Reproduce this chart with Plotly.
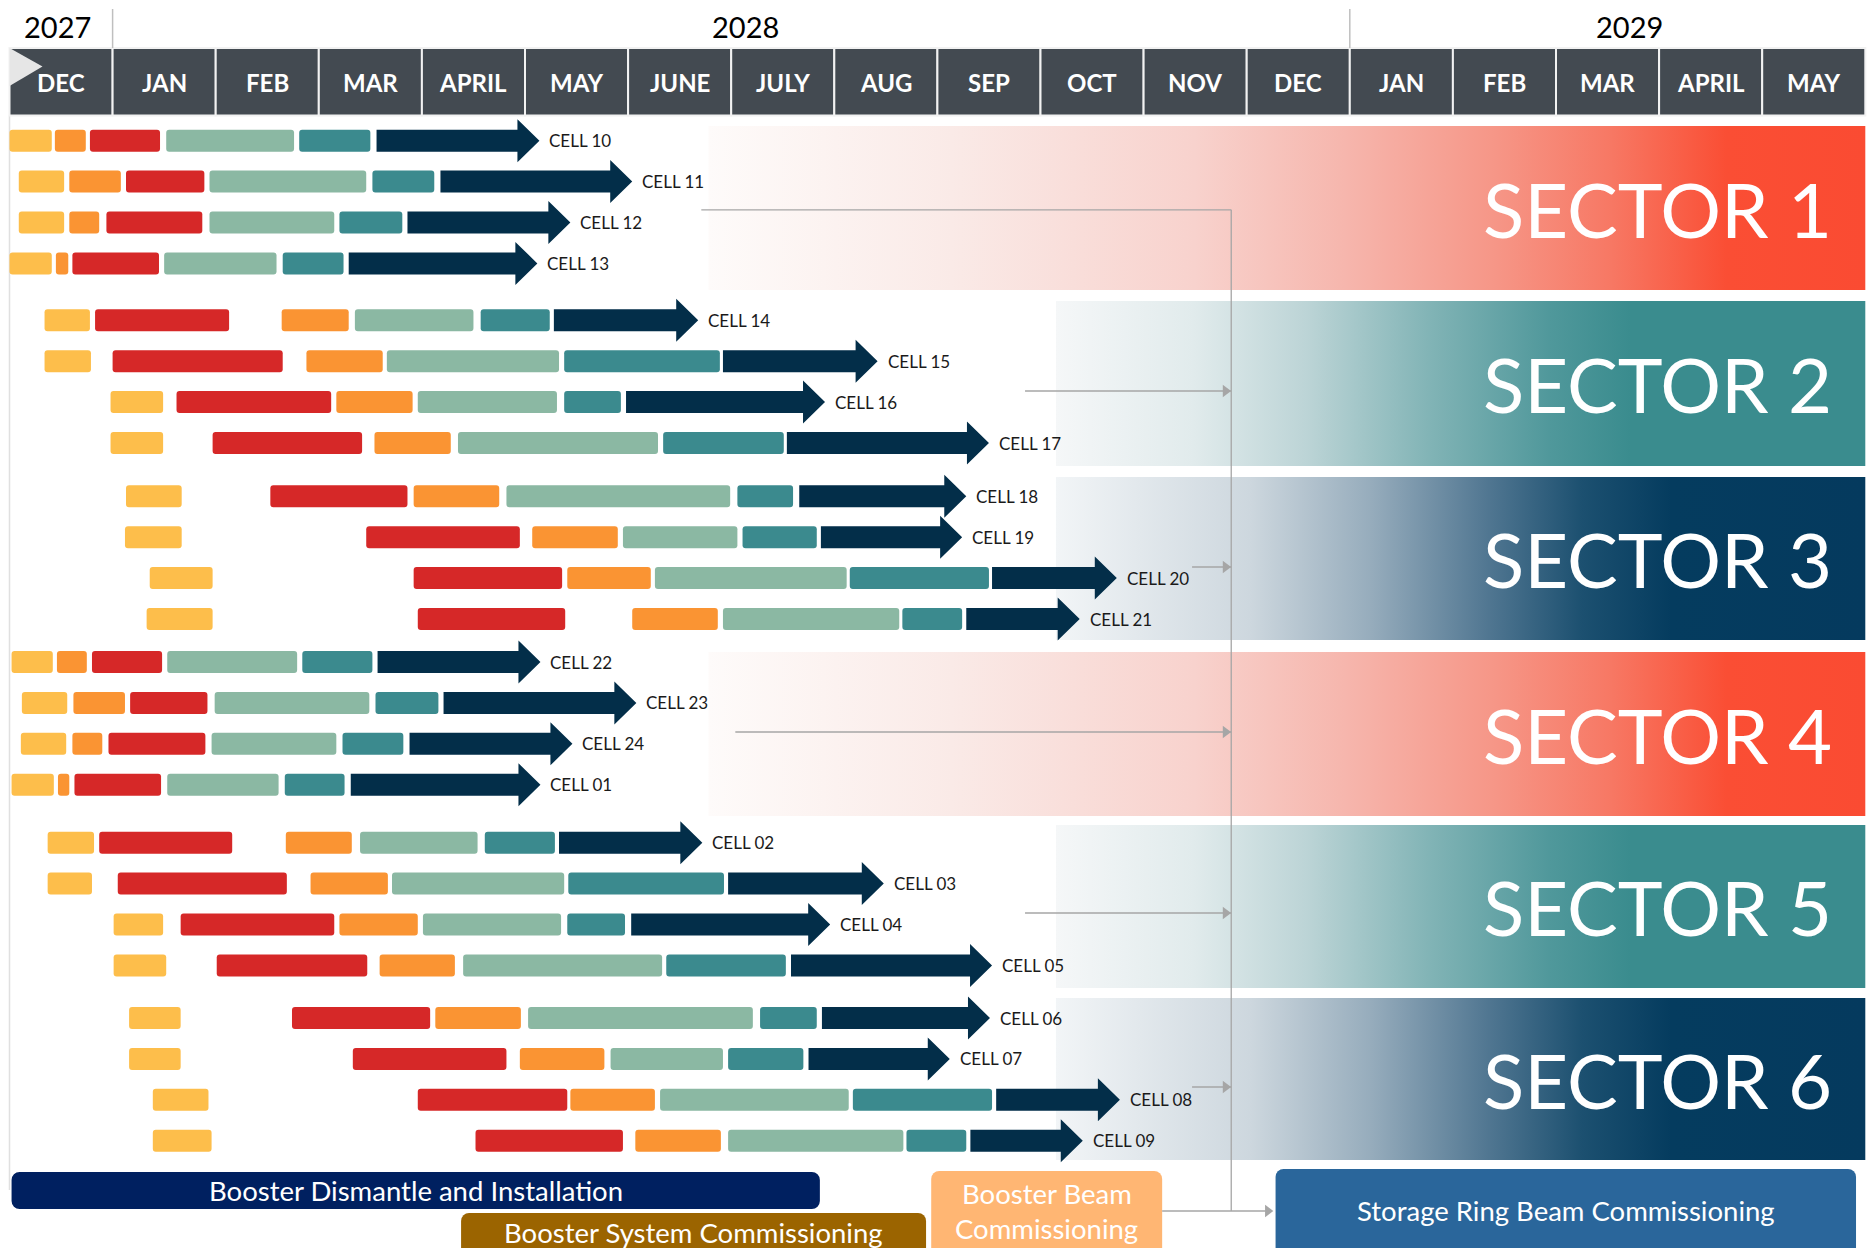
import plotly.graph_objects as go

# ---------------- data ----------------
months = ["DEC", "JAN", "FEB", "MAR", "APRIL", "MAY", "JUNE", "JULY", "AUG", "SEP",
          "OCT", "NOV", "DEC", "JAN", "FEB", "MAR", "APRIL", "MAY"]
years = ["2027", "2028", "2029"]
sectors = ["SECTOR 1", "SECTOR 2", "SECTOR 3", "SECTOR 4", "SECTOR 5", "SECTOR 6"]
cells = ["CELL 10", "CELL 11", "CELL 12", "CELL 13",
         "CELL 14", "CELL 15", "CELL 16", "CELL 17",
         "CELL 18", "CELL 19", "CELL 20", "CELL 21",
         "CELL 22", "CELL 23", "CELL 24", "CELL 01",
         "CELL 02", "CELL 03", "CELL 04", "CELL 05",
         "CELL 06", "CELL 07", "CELL 08", "CELL 09"]

# phase start / end, in months counted from the start of DEC 2027
yellow_start = [0.00, 0.09, 0.09, 0.00, 0.34, 0.34, 0.98, 0.98, 1.13, 1.12, 1.36, 1.33,
                0.02, 0.12, 0.11, 0.02, 0.37, 0.37, 1.01, 1.01, 1.16, 1.16, 1.39, 1.39]
yellow_end = [0.41, 0.53, 0.53, 0.41, 0.78, 0.79, 1.49, 1.49, 1.67, 1.67, 1.97, 1.97,
              0.42, 0.56, 0.55, 0.43, 0.82, 0.80, 1.49, 1.52, 1.66, 1.66, 1.93, 1.96]
orange_start = [0.44, 0.58, 0.58, 0.45, 2.64, 2.88, 3.17, 3.54, 3.92, 5.07, 5.41, 6.04,
                0.46, 0.62, 0.61, 0.47, 2.68, 2.92, 3.20, 3.59, 4.13, 4.95, 5.44, 6.07]
orange_end = [0.74, 1.08, 0.87, 0.57, 3.29, 3.62, 3.91, 4.28, 4.75, 5.90, 6.22, 6.87,
              0.75, 1.12, 0.90, 0.58, 3.32, 3.67, 3.96, 4.32, 4.96, 5.77, 6.26, 6.90]
red_start = [0.78, 1.13, 0.94, 0.61, 0.83, 1.00, 1.62, 1.97, 2.53, 3.46, 3.92, 3.96,
             0.80, 1.17, 0.96, 0.63, 0.87, 1.05, 1.66, 2.01, 2.74, 3.33, 3.96, 4.52]
red_end = [1.46, 1.89, 1.87, 1.45, 2.13, 2.65, 3.12, 3.42, 3.86, 4.95, 5.36, 5.39,
           1.48, 1.92, 1.90, 1.47, 2.16, 2.69, 3.15, 3.47, 4.08, 4.82, 5.41, 5.95]
green_start = [1.52, 1.94, 1.94, 1.50, 3.35, 3.66, 3.96, 4.35, 4.82, 5.95, 6.26, 6.92,
               1.53, 1.99, 1.96, 1.53, 3.40, 3.71, 4.01, 4.40, 5.03, 5.83, 6.31, 6.97]
green_end = [2.76, 3.46, 3.15, 2.59, 4.50, 5.33, 5.31, 6.29, 6.99, 7.06, 8.12, 8.63,
             2.79, 3.49, 3.17, 2.61, 4.54, 5.38, 5.35, 6.33, 7.21, 6.92, 8.14, 8.67]
teal_start = [2.81, 3.52, 3.20, 2.65, 4.57, 5.38, 5.38, 6.34, 7.06, 7.11, 8.15, 8.66,
              2.84, 3.55, 3.23, 2.67, 4.61, 5.42, 5.41, 6.37, 7.28, 6.97, 8.18, 8.70]
teal_end = [3.50, 4.12, 3.81, 3.24, 5.24, 6.89, 5.93, 7.51, 7.60, 7.83, 9.50, 9.24,
            3.52, 4.16, 3.82, 3.25, 5.29, 6.93, 5.97, 7.53, 7.83, 7.70, 9.53, 9.28]
arrow_start = [3.56, 4.18, 3.86, 3.29, 5.28, 6.92, 5.98, 7.54, 7.66, 7.87, 9.53, 9.28,
               3.57, 4.21, 3.88, 3.31, 5.33, 6.97, 6.03, 7.58, 7.88, 7.75, 9.57, 9.32]
arrow_end = [5.14, 6.04, 5.44, 5.12, 6.68, 8.42, 7.91, 9.50, 9.28, 9.24, 10.74, 10.38,
             5.15, 6.08, 5.46, 5.15, 6.72, 8.48, 7.96, 9.53, 9.51, 9.12, 10.77, 10.41]

milestones = ["Booster Dismantle and Installation", "Booster System Commissioning",
              "Booster Beam<br>Commissioning", "Storage Ring Beam Commissioning"]
milestone_start = [0.02, 4.38, 8.94, 12.28]
milestone_end = [7.86, 8.89, 11.18, 17.91]

# ---------------- layout constants ----------------
W, H = 1869, 1248
X0, MW = 9.5, 103.1                     # px of month 0, px per month
XR = [-X0 / MW, (W - X0) / MW]
HDR_TOP, HDR_BOT = 48, 115.6
ROW0 = [140.7, 320.3, 496.3, 662.0, 842.7, 1018.0]
PITCH = 40.9
BAR_H = 22
HEAD_HALF = 21.5
HEAD_LEN = 22 / MW
BANDS = [(126, 290), (301, 466), (477, 640), (652, 816), (825, 988), (998, 1160)]
BAND_X0 = [6.78, 10.15, 10.15, 6.78, 10.15, 10.15]
FONT = "Lato"

red_grad = [[0, "rgb(254,251,250)"], [0.21, "rgb(250,234,231)"], [0.42, "rgb(248,210,205)"],
            [0.55, "rgb(246,182,173)"], [0.68, "rgb(246,150,135)"], [0.78, "rgb(247,120,100)"],
            [0.88, "rgb(250,78,52)"], [1, "rgb(250,75,50)"]]
teal_grad = [[0, "rgb(245,247,248)"], [0.17, "rgb(225,235,236)"], [0.31, "rgb(188,212,214)"],
             [0.46, "rgb(130,180,182)"], [0.61, "rgb(80,152,155)"], [0.71, "rgb(58,140,142)"],
             [1, "rgb(58,140,142)"]]
navy_grad = [[0, "rgb(242,245,247)"], [0.24, "rgb(205,215,222)"], [0.39, "rgb(150,172,188)"],
             [0.535, "rgb(80,118,145)"], [0.65, "rgb(28,80,112)"], [0.76, "rgb(5,60,95)"],
             [1, "rgb(5,58,94)"]]
band_grads = [red_grad, teal_grad, navy_grad, red_grad, teal_grad, navy_grad]

row_y = [ROW0[i // 4] + (i % 4) * PITCH for i in range(len(cells))]

fig = go.Figure()

# sector bands (gradient)
for k, sec in enumerate(sectors):
    y0, y1 = BANDS[k]
    x0, x1 = BAND_X0[k], 18.0
    fig.add_trace(go.Scatter(
        x=[x0, x1, x1, x0, x0], y=[y0, y0, y1, y1, y0], mode="lines",
        line=dict(width=0), fill="toself",
        fillgradient=dict(type="horizontal", colorscale=band_grads[k]),
        hoverinfo="skip"))

# connector lines
LC = "#A6A6A6"
VX = 11.85
conn_y = [209.8, 391, 567, 732, 913, 1087]
conn_x0 = [6.71, 9.85, 11.47, 7.04, 9.85, 11.47]
for k in range(6):
    fig.add_trace(go.Scatter(x=[conn_x0[k], VX], y=[conn_y[k], conn_y[k]], mode="lines",
                             line=dict(color=LC, width=1.3), hoverinfo="skip"))
fig.add_trace(go.Scatter(x=[VX, VX], y=[conn_y[0], 1211], mode="lines",
                         line=dict(color=LC, width=1.3), hoverinfo="skip"))
fig.add_trace(go.Scatter(x=[milestone_end[2], milestone_start[3] - 0.08], y=[1211, 1211], mode="lines",
                         line=dict(color=LC, width=1.3), hoverinfo="skip"))
fig.add_trace(go.Scatter(
    x=[VX - 0.055] * 5 + [milestone_start[3] - 0.075],
    y=conn_y[1:] + [1211], mode="markers",
    marker=dict(symbol="triangle-right", size=11, color=LC), hoverinfo="skip"))

# phase bars
phases = [(yellow_start, yellow_end, "#FDBE4B"), (orange_start, orange_end, "#FA9433"),
          (red_start, red_end, "#D62828"), (green_start, green_end, "#8BB8A3"),
          (teal_start, teal_end, "#3B8A8E")]
for s, e, col in phases:
    fig.add_trace(go.Bar(
        orientation="h", y=row_y, base=s, x=[b - a for a, b in zip(s, e)],
        width=BAR_H, marker=dict(color=col, cornerradius=3, line=dict(width=0)),
        hoverinfo="skip"))

# arrows
ax, ay = [], []
for s, e, y in zip(arrow_start, arrow_end, row_y):
    h = e - HEAD_LEN
    ax += [s, h, h, e, h, h, s, s, None]
    ay += [y - BAR_H / 2, y - BAR_H / 2, y - HEAD_HALF, y, y + HEAD_HALF, y + BAR_H / 2,
           y + BAR_H / 2, y - BAR_H / 2, None]
fig.add_trace(go.Scatter(x=ax, y=ay, mode="lines", line=dict(width=0), fill="toself",
                         fillcolor="#032E49", hoverinfo="skip"))

# milestone boxes
ms_y = [(1172, 1209), (1213, 1265), (1171, 1265), (1169, 1265)]
ms_col = ["#002060", "#9B6400", "#FFB673", "#2A669B"]
for i in range(4):
    y0, y1 = ms_y[i]
    fig.add_trace(go.Bar(
        orientation="h", y=[(y0 + y1) / 2], base=[milestone_start[i]],
        x=[milestone_end[i] - milestone_start[i]], width=y1 - y0,
        marker=dict(color=ms_col[i], cornerradius=8, line=dict(width=0)), hoverinfo="skip"))

annotations = []
MS_FONT = 27.5
ms_text_y = [1190.5, 1232, None, 1210]
for i in [0, 1, 3]:
    annotations.append(dict(x=(milestone_start[i] + milestone_end[i]) / 2, y=ms_text_y[i],
                            text=milestones[i], showarrow=False,
                            font=dict(family=FONT, size=MS_FONT, color="white")))
for j, line in enumerate(milestones[2].split("<br>")):
    annotations.append(dict(x=(milestone_start[2] + milestone_end[2]) / 2, y=[1193, 1228][j],
                            text=line, showarrow=False,
                            font=dict(family=FONT, size=MS_FONT, color="white")))

# cell labels
for c, e, y in zip(cells, arrow_end, row_y):
    annotations.append(dict(x=e, y=y, text=c, showarrow=False, xanchor="left", xshift=8,
                            font=dict(family=FONT, size=17, color="#1a1a1a")))

# sector labels
for k, sec in enumerate(sectors):
    annotations.append(dict(x=(1834 - X0) / MW, y=(BANDS[k][0] + BANDS[k][1]) / 2, text=sec,
                            showarrow=False, xanchor="right",
                            font=dict(family=FONT, size=76, color="white")))

# header
shapes = []
for i, m in enumerate(months):
    shapes.append(dict(type="rect", xref="x", yref="y", x0=i, x1=i + 1, y0=HDR_TOP, y1=HDR_BOT,
                       fillcolor="#434A51", line=dict(color="#F2F2F2", width=2), layer="above"))
    annotations.append(dict(x=i + 0.5, y=(HDR_TOP + HDR_BOT) / 2 + 1, text="<b>%s</b>" % m,
                            showarrow=False, font=dict(family=FONT, size=24, color="white")))
shapes.append(dict(type="path", xref="x", yref="y",
                   path="M 0 %f L 0 %f L %f %f Z" % (HDR_TOP, 86, 33 / MW, 66.5),
                   fillcolor="#E6E6E6", line=dict(width=0), layer="above"))
# year separators and left rule
for xm in [1, 13]:
    shapes.append(dict(type="line", xref="x", yref="y", x0=xm, x1=xm, y0=9, y1=HDR_TOP,
                       line=dict(color="#BFBFBF", width=1.5)))
shapes.append(dict(type="line", xref="x", yref="y", x0=0, x1=0, y0=HDR_BOT, y1=1190,
                   line=dict(color="#E0E0E0", width=1.5), layer="below"))

year_x = [0.47, 7.14, 15.71]
for yv, xv in zip(years, year_x):
    annotations.append(dict(x=xv, y=26, text=yv, showarrow=False,
                            font=dict(family=FONT, size=29, color="black")))

fig.update_layout(
    width=W, height=H, autosize=False, margin=dict(l=0, r=0, t=0, b=0, pad=0),
    paper_bgcolor="white", plot_bgcolor="white", showlegend=False, barmode="overlay",
    xaxis=dict(range=XR, visible=False, fixedrange=True),
    yaxis=dict(range=[H, 0], visible=False, fixedrange=True),
    shapes=shapes, annotations=annotations,
)

fig.write_html("out.html", config={"displayModeBar": False},
               post_script="document.body.style.margin='0';document.body.style.overflow='hidden';")
